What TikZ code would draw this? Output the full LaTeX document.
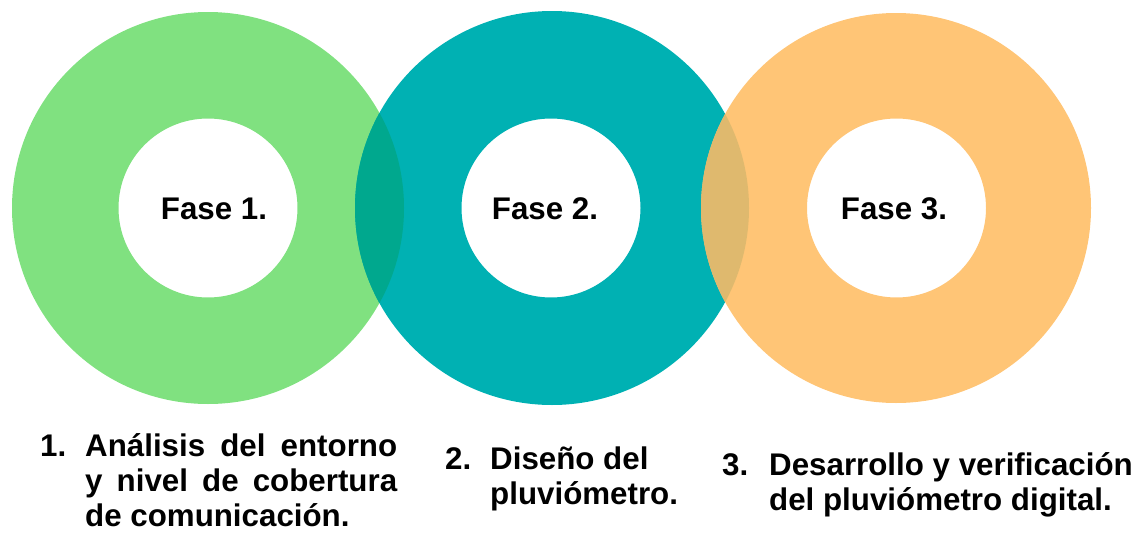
\documentclass[tikz,border=0pt]{standalone}
\usepackage{fontspec}
\setmainfont{Liberation Sans}
\definecolor{cgreen}{RGB}{128,225,128}
\definecolor{cteal}{RGB}{0,177,179}
\definecolor{corange}{RGB}{255,197,118}
\definecolor{lensA}{RGB}{0,168,142}
\definecolor{lensB}{RGB}{223,185,110}
\tikzset{
  fasetxt/.style={font=\fontsize{31.3}{35}\selectfont\bfseries, inner sep=0pt, anchor=base},
  itemtxt/.style={font=\fontsize{31.3}{35}\selectfont\bfseries, inner sep=0pt, anchor=base west},
}
\begin{document}
\begin{tikzpicture}[x=1pt,y=-1pt]
\useasboundingbox (0,0) rectangle (1141,533);
% rings
\fill[cgreen, even odd rule] (208,208) circle[radius=196] (208,208) circle[radius=89.5];
\fill[cteal, even odd rule] (552,208) circle[radius=197] (551,208) circle[radius=89.5];
\fill[corange, even odd rule] (896,208) circle[radius=195] (896.5,208) circle[radius=89.5];
% overlaps
\begin{scope}
  \clip (208,208) circle[radius=196];
  \fill[lensA] (552,208) circle[radius=197];
\end{scope}
\begin{scope}
  \clip (552,208) circle[radius=197];
  \fill[lensB] (896,208) circle[radius=195];
\end{scope}
% labels in rings
\node[fasetxt] (f1) at (214,219.5) {Fase 1.};
\node[fasetxt] (f2) at (545,219.5) {Fase 2.};
\node[fasetxt] (f3) at (894,219.5) {Fase 3.};
% item 1
\node[itemtxt] (n1) at (40,456) {1.};
\node[itemtxt] (a1) at (85,456) {\makebox[312pt][s]{Análisis del entorno}};
\node[itemtxt] (a2) at (85,491) {\makebox[312pt][s]{y nivel de cobertura}};
\node[itemtxt] (a3) at (85,526) {de comunicación.};
% item 2
\node[itemtxt] (n2) at (445,469) {2.};
\node[itemtxt] (b1) at (490,469) {Diseño del};
\node[itemtxt] (b2) at (490,504) {pluviómetro.};
% item 3
\node[itemtxt] (n3) at (722,475) {3.};
\node[itemtxt] (c1) at (769,475) {Desarrollo y verificación};
\node[itemtxt] (c2) at (769,510) {del pluviómetro digital.};
\end{tikzpicture}
\end{document}
